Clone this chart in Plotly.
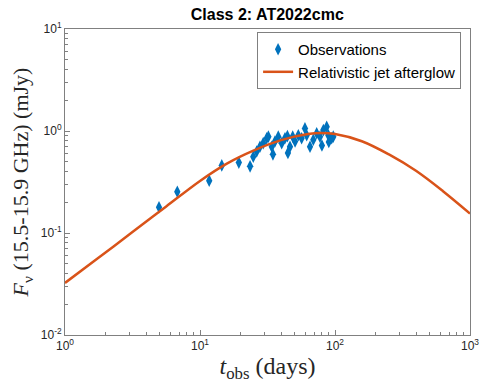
import plotly.graph_objects as go

obs_t = [4.97, 6.79, 11.7, 14.5, 19.4, 23.5,
         24.8, 26.3, 27.8, 29.4, 31.2, 32.1, 34.0, 34.7, 35.9, 38.0, 40.3,
         42.6, 44.4, 44.8, 46.4, 48.6, 50.6, 53.5, 56.6, 59.9, 61.7, 65.3,
         69.1, 73.2, 77.4, 80.0, 82.0, 86.8, 89.3, 90.0, 94.5, 97.1]
obs_f = [0.179, 0.254, 0.326, 0.46, 0.49, 0.45,
         0.56, 0.63, 0.70, 0.76, 0.85, 0.88, 0.70, 0.59, 0.79, 0.88, 0.76,
         0.85, 0.89, 0.61, 0.70, 0.88, 0.79, 0.91, 0.85, 1.06, 0.91, 0.70,
         0.82, 0.95, 0.88, 0.72, 1.02, 1.10, 0.91, 0.78, 0.85, 0.88]

# model curve, sampled by eye from the figure
model_t = [1, 1.78, 3.16, 5.62, 10, 15.8, 25.1, 39.8, 63.1, 79.4, 100,
           158, 251, 398, 631, 1000]
model_f = [0.0324, 0.0575, 0.102, 0.182, 0.324, 0.479, 0.646, 0.813, 0.933,
           0.955, 0.933, 0.794, 0.589, 0.407, 0.257, 0.155]

x_ticks = [1, 10, 100, 1000]
x_labels = ['10<sup>0</sup>', '10<sup>1</sup>', '10<sup>2</sup>', '10<sup>3</sup>']
x_minor = [m * d for d in (1, 10, 100) for m in range(2, 10)]
y_ticks = [0.01, 0.1, 1, 10]
y_labels = ['10<sup>-2</sup>', '10<sup>-1</sup>', '10<sup>0</sup>', '10<sup>1</sup>']
y_minor = [m * d for d in (0.01, 0.1, 1) for m in range(2, 10)]

fig = go.Figure()
fig.add_trace(go.Scatter(
    x=obs_t, y=obs_f, mode='markers', name='Observations',
    marker=dict(symbol='diamond-tall', size=9, color='#0072BD', line=dict(width=0))
))
fig.add_trace(go.Scatter(
    x=model_t, y=model_f, mode='lines', name='Relativistic jet afterglow',
    line=dict(color='#D95319', width=2.5, shape='spline')
))

axis_style = dict(
    type='log', showline=True, mirror=True, linecolor='#808080', linewidth=1,
    ticks='inside', ticklen=5, tickcolor='#808080', showgrid=False, zeroline=False,
    automargin=False,
    tickfont=dict(family='Liberation Sans, Arial', size=12, color='#262626'),
)

fig.update_xaxes(
    range=[0, 3], tickvals=x_ticks, ticktext=x_labels,
    minor=dict(tickvals=x_minor, ticks='inside', ticklen=3, tickcolor='#808080', showgrid=False),
    title=dict(text='<i>t</i><sub>obs</sub> (days)',
               font=dict(family='Liberation Serif, serif', size=24, color='#262626'),
               standoff=4),
    **axis_style
)
fig.update_yaxes(
    range=[-2, 1], tickvals=y_ticks, ticktext=y_labels,
    minor=dict(tickvals=y_minor, ticks='inside', ticklen=3, tickcolor='#808080', showgrid=False),
    title=dict(text='<i>F</i><sub>ν</sub> (15.5-15.9 GHz) (mJy)',
               font=dict(family='Liberation Serif, serif', size=22, color='#262626'),
               standoff=6),
    **axis_style
)

# the page body adds an 8px margin, so the figure is sized 8px smaller
fig.update_layout(
    width=482, height=380,
    margin=dict(l=57, r=20, t=21, b=53),
    plot_bgcolor='white', paper_bgcolor='white',
    title=dict(text='<b>Class 2: AT2022cmc</b>', x=0.538, xanchor='center',
               yref='container', y=0.997, yanchor='top',
               font=dict(family='Liberation Sans, Arial', size=16, color='black')),
    legend=dict(x=0.978, y=0.99, xanchor='right', yanchor='top',
                bgcolor='white', bordercolor='#808080', borderwidth=1,
                font=dict(family='Liberation Sans, Arial', size=15, color='black'),
                tracegroupgap=0, itemwidth=30),
    showlegend=True,
)

fig.write_html("out.html")
